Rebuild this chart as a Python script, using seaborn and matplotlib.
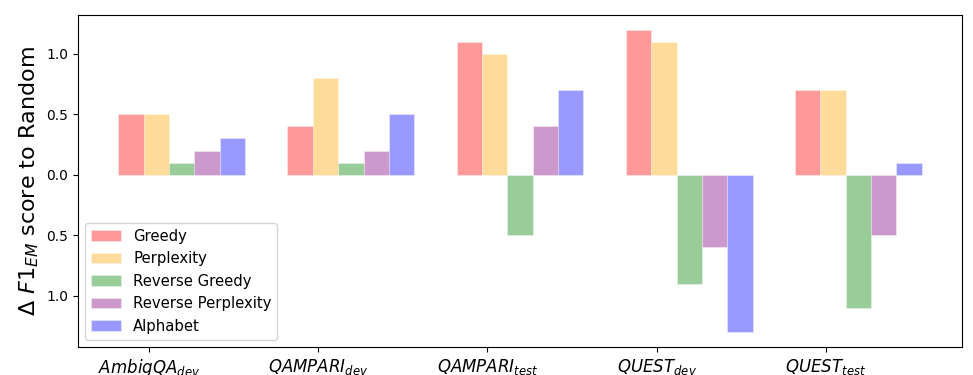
import numpy as np
import pandas as pd
import matplotlib
matplotlib.use("Agg")
import matplotlib.pyplot as plt
import seaborn as sns
from matplotlib.ticker import FuncFormatter

datasets = ["AmbigQA", "QAMPARI_dev", "QAMPARI_test", "QUEST_dev", "QUEST_test"]
tick_labels = [r"$AmbigQA_{dev}$", r"$QAMPARI_{dev}$", r"$QAMPARI_{test}$",
               r"$QUEST_{dev}$", r"$QUEST_{test}$"]
methods = ["Greedy", "Perplexity", "Reverse Greedy", "Reverse Perplexity", "Alphabet"]
colors = ["red", "orange", "green", "purple", "blue"]

greedy = [0.5, 0.4, 1.1, 1.2, 0.7]
perplexity = [0.5, 0.8, 1.0, 1.1, 0.7]
reverse_greedy = [0.1, 0.1, -0.5, -0.9, -1.1]
reverse_perplexity = [0.2, 0.2, 0.4, -0.6, -0.5]
alphabet = [0.3, 0.5, 0.7, -1.3, 0.1]

series = [greedy, perplexity, reverse_greedy, reverse_perplexity, alphabet]
rows = []
for m, vals in zip(methods, series):
    for d, v in zip(datasets, vals):
        rows.append({"dataset": d, "method": m, "delta": v})
df = pd.DataFrame(rows)

fig = plt.figure(figsize=(9.73, 3.75), dpi=100)
ax = fig.add_axes([0.0802, 0.0747, 0.9085, 0.8866])

sns.barplot(data=df, x="dataset", y="delta", hue="method",
            hue_order=methods, order=datasets, palette=colors,
            saturation=1, alpha=0.4, width=0.75, errorbar=None,
            edgecolor="white", linewidth=0.6, ax=ax)

# auto-like x margins around the bars
ax.set_xlim(-0.6125, 4.6125)
ax.set_ylim(-1.425, 1.325)

# ticks sit left of the group centres in the original
ax.set_xticks(np.arange(len(datasets)) - 0.193)
ax.set_xticklabels(tick_labels, fontsize=12)
ax.set_xlabel("")
ax.set_yticks([-1.0, -0.5, 0.0, 0.5, 1.0])
ax.yaxis.set_major_formatter(FuncFormatter(lambda v, p: f"{abs(v):.1f}"))
ax.tick_params(axis="y", labelsize=10)
ax.set_ylabel(r"$\Delta\ F1_{EM}$ score to Random", fontsize=16)

handles, labels = ax.get_legend_handles_labels()
ax.legend(handles, labels, loc="lower left", fontsize=10.7)

fig.savefig("out.png", dpi=100)
